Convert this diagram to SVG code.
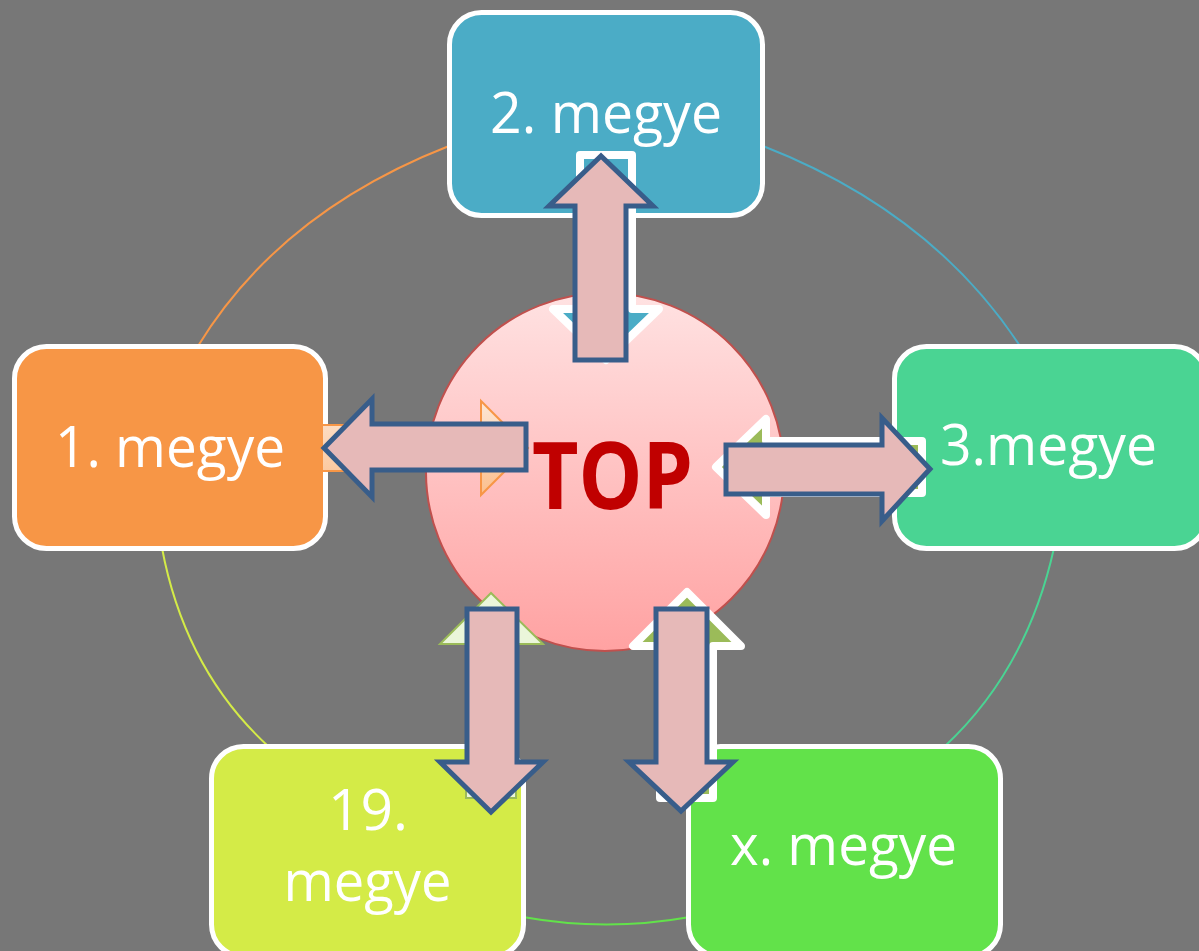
<svg xmlns="http://www.w3.org/2000/svg" width="1199" height="951" viewBox="0 0 1199 951">
  <defs>
    <linearGradient id="gCircle" x1="0" y1="0" x2="0" y2="1">
      <stop offset="0" stop-color="#FFE2E2"/>
      <stop offset="1" stop-color="#FFA2A2"/>
    </linearGradient>
    <linearGradient id="gPeach" x1="0" y1="0" x2="0" y2="1">
      <stop offset="0" stop-color="#FDE6D4"/>
      <stop offset="1" stop-color="#FBC08E"/>
    </linearGradient>
    <style>
      .arc { fill: none; stroke-width: 2; }
      .node { stroke: #FFFFFF; stroke-width: 5; }
      .label { font-family: "Open Sans", "Noto Sans", "Liberation Sans", sans-serif; font-size: 57px; fill: #FFFFFF; text-anchor: middle; }
      .inW { stroke: #FFFFFF; stroke-width: 8; stroke-linejoin: round; }
      .big { fill: #E6B9B8; stroke: #385D8A; stroke-width: 5; stroke-linejoin: miter; }
    </style>
  </defs>
  <rect x="0" y="0" width="1199" height="951" fill="#777777"/>

  <g id="connectors">
    <path class="arc" stroke="#F79646" d="M 449 146 Q 280 212 198 346"/>
    <path class="arc" stroke="#4BACC6" d="M 763 146 Q 932 212 1020 346"/>
    <path class="arc" stroke="#4AD493" d="M 1054 548 Q 1027 670 944 747"/>
    <path class="arc" stroke="#62E24A" d="M 523 917 Q 606 932 690 917"/>
    <path class="arc" stroke="#D4EB47" d="M 162 548 Q 185 670 269 747"/>
  </g>

  <g id="node-1">
    <rect class="node" x="14.5" y="346.5" width="311" height="202" rx="32" fill="#F79646"/>
    <text class="label" x="170" y="467" textLength="230" lengthAdjust="spacingAndGlyphs">1. megye</text>
  </g>
  <g id="node-2">
    <rect class="node" x="449.5" y="12.5" width="313" height="203" rx="32" fill="#4BACC6"/>
    <text class="label" x="606" y="133" textLength="232" lengthAdjust="spacingAndGlyphs">2. megye</text>
  </g>
  <g id="node-3">
    <rect class="node" x="894.5" y="346.5" width="312" height="202" rx="32" fill="#4AD493"/>
    <text class="label" x="1048.5" y="465" textLength="217" lengthAdjust="spacingAndGlyphs">3.megye</text>
  </g>
  <g id="node-19">
    <rect class="node" x="211.5" y="746.5" width="312" height="210" rx="32" fill="#D4EB47"/>
    <text class="label" x="368" y="830">19.</text>
    <text class="label" x="367.5" y="901" textLength="168" lengthAdjust="spacingAndGlyphs">megye</text>
  </g>
  <g id="node-x">
    <rect class="node" x="688.5" y="746.5" width="312" height="210" rx="32" fill="#62E24A"/>
    <text class="label" x="843.5" y="865" textLength="227" lengthAdjust="spacingAndGlyphs">x. megye</text>
  </g>

  <g id="node-top">
    <circle cx="605" cy="472" r="179" fill="url(#gCircle)" stroke="#C0504D" stroke-width="2"/>
    <text x="612.5" y="509" font-family="'Open Sans', 'Noto Sans', 'Liberation Sans', sans-serif" font-weight="700" font-size="94" fill="#C00000" text-anchor="middle" textLength="161" lengthAdjust="spacingAndGlyphs">TOP</text>
  </g>

  <g id="inner-arrows">
    <polygon points="322,425 481,425 481,401 528,448 481,495 481,471 322,471" fill="url(#gPeach)" stroke="#F79646" stroke-width="2"/>
    <polygon class="inW" points="580,155 632,155 632,309 659,309 606,360 553,309 580,309" fill="#4BACC6"/>
    <polygon class="inW" points="922,441 922,493 766,493 766,515 716,467 766,419 766,441" fill="#9BBB59"/>
    <polygon points="466,798 516,798 516,644 543,644 491,593 440,644 466,644" fill="#EBF6DA" stroke="#9BBB59" stroke-width="2"/>
    <polygon class="inW" points="660,798 713,798 713,646 741,646 687,592 633,646 660,646" fill="#9BBB59"/>
  </g>

  <g id="arrows">
    <polygon class="big" points="575,360 575,206 549,206 601,156 653,206 626,206 626,360"/>
    <polygon class="big" points="526,424 372,424 372,399 324,448 372,497 372,470 526,470"/>
    <polygon class="big" points="726,445 882,445 882,418 930,469 882,521 882,494 726,494"/>
    <polygon class="big" points="467,609 517,609 517,762 543,762 491,812 440,762 467,762"/>
    <polygon class="big" points="656,609 707,609 707,762 733,762 681,811 629,762 656,762"/>
  </g>
</svg>
